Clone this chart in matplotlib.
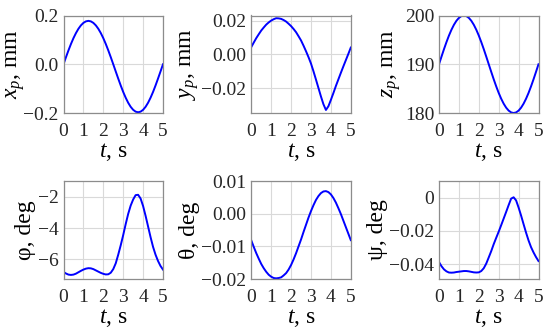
import matplotlib
matplotlib.use("Agg")
import matplotlib.pyplot as plt

plt.rcParams['font.family'] = ['Liberation Serif', 'DejaVu Serif']
plt.rcParams['mathtext.fontset'] = 'custom'
plt.rcParams['mathtext.rm'] = 'Liberation Serif'
plt.rcParams['mathtext.it'] = 'Liberation Serif:italic'

t = [0.0, 0.125, 0.25, 0.375, 0.5, 0.625, 0.75, 0.875, 1.0, 1.125,
     1.25, 1.375, 1.5, 1.625, 1.75, 1.875, 2.0, 2.125, 2.25, 2.375,
     2.5, 2.625, 2.75, 2.875, 3.0, 3.125, 3.25, 3.375, 3.5, 3.625,
     3.75, 3.875, 4.0, 4.125, 4.25, 4.375, 4.5, 4.625, 4.75, 4.875, 5.0]

x_p = [0.0, 0.0291, 0.0570, 0.0832, 0.1070, 0.1278, 0.1455, 0.1595, 0.1697, 0.1759,
       0.1780, 0.1759, 0.1697, 0.1595, 0.1455, 0.1278, 0.1070, 0.0832, 0.0570, 0.0291,
       0.0, -0.0296, -0.0588, -0.0871, -0.1136, -0.1373, -0.1579, -0.1746, -0.1869, -0.1945,
       -0.1970, -0.1945, -0.1869, -0.1746, -0.1579, -0.1373, -0.1136, -0.0871, -0.0588, -0.0296, 0.0]
y_p = [0.0043, 0.0070, 0.0096, 0.0119, 0.0141, 0.0159, 0.0176, 0.0189, 0.0200, 0.0208,
       0.0214, 0.0213, 0.0210, 0.0203, 0.0194, 0.0181, 0.0167, 0.0150, 0.0131, 0.0107,
       0.0082, 0.0051, 0.0018, -0.0017, -0.0055, -0.0101, -0.0150, -0.0200, -0.0250, -0.0296,
       -0.0330, -0.0308, -0.0270, -0.0230, -0.0188, -0.0149, -0.0110, -0.0072, -0.0035, 0.0002, 0.0040]
z_p = [190.0, 191.56, 193.09, 194.54, 195.88, 197.07, 198.09, 198.91, 199.51, 199.88,
       200.0, 199.88, 199.51, 198.91, 198.09, 197.07, 195.88, 194.54, 193.09, 191.56,
       190.0, 188.44, 186.91, 185.46, 184.12, 182.93, 181.91, 181.09, 180.49, 180.12,
       180.0, 180.12, 180.49, 181.09, 181.91, 182.93, 184.12, 185.46, 186.91, 188.44, 190.0]
phi = [-6.80, -6.90, -6.97, -6.99, -6.97, -6.91, -6.82, -6.73, -6.65, -6.59,
       -6.56, -6.57, -6.62, -6.70, -6.78, -6.86, -6.92, -6.96, -6.95, -6.85,
       -6.62, -6.25, -5.70, -5.10, -4.45, -3.75, -3.10, -2.57, -2.18, -1.90,
       -1.88, -2.12, -2.60, -3.22, -3.90, -4.58, -5.20, -5.70, -6.10, -6.42, -6.65]
theta = [-0.0082, -0.0102, -0.0121, -0.0138, -0.0154, -0.0167, -0.0178, -0.0187, -0.0193, -0.0197,
         -0.0198, -0.0197, -0.0195, -0.0189, -0.0182, -0.0171, -0.0157, -0.0140, -0.0121, -0.0100,
         -0.0079, -0.0056, -0.0034, -0.0012, 0.0008, 0.0026, 0.0042, 0.0054, 0.0063, 0.0068,
         0.0069, 0.0066, 0.0059, 0.0048, 0.0034, 0.0017, -0.0001, -0.0021, -0.0041, -0.0061, -0.0081]
psi = [-0.0388, -0.0413, -0.0432, -0.0444, -0.0451, -0.0452, -0.0451, -0.0448, -0.0446, -0.0444,
       -0.0442, -0.0442, -0.0444, -0.0447, -0.0450, -0.0451, -0.0450, -0.0442, -0.0425, -0.0397,
       -0.0360, -0.0322, -0.0280, -0.0242, -0.0205, -0.0166, -0.0126, -0.0086, -0.0045, -0.0006,
       0.0002, -0.0017, -0.0060, -0.0108, -0.0160, -0.0211, -0.0258, -0.0298, -0.0330, -0.0358, -0.0382]

x_ticks = [0, 1, 2, 3, 4, 5]
x_tick_labels = ['0', '1', '2', '3', '4', '5']

series = [x_p, y_p, z_p, phi, theta, psi]
y_labels = [r'$x_p$, mm', r'$y_p$, mm', r'$z_p$, mm', 'φ, deg', 'θ, deg', 'ψ, deg']
y_ticks = [[-0.2, 0.0, 0.2], [-0.02, 0.0, 0.02], [180, 190, 200],
           [-6, -4, -2], [-0.02, -0.01, 0.0, 0.01], [-0.04, -0.02, 0.0]]
y_tick_labels = [['\u22120.2', '0.0', '0.2'], ['\u22120.02', '0.00', '0.02'], ['180', '190', '200'],
                 ['\u22126', '\u22124', '\u22122'], ['\u22120.02', '\u22120.01', '0.00', '0.01'],
                 ['\u22120.04', '\u22120.02', '0']]
y_lims = [(-0.2, 0.2), (-0.0348, 0.023), (180, 200), (-7.25, -1.0), (-0.02, 0.01), (-0.049, 0.010)]

W, H = 550, 332
fig = plt.figure(figsize=(W / 100, H / 100), dpi=100)
lefts = [63.5, 251.3, 439.0]
width = 99.5
rows = [(15.5, 113.0), (181.0, 279.0)]
label_pads = [-2.5, 0.5, 1, 1, 1, 1]

for i in range(6):
    r, c = divmod(i, 3)
    top, bot = rows[r]
    ax = fig.add_axes([lefts[c] / W, 1 - bot / H, width / W, (bot - top) / H])
    ax.plot(t, series[i], color='#0000ff', lw=1.4)
    ax.set_xlim(0, 5)
    ax.set_ylim(*y_lims[i])
    ax.set_xticks(x_ticks)
    ax.set_xticklabels(x_tick_labels)
    ax.set_yticks(y_ticks[i])
    ax.set_yticklabels(y_tick_labels[i])
    ax.grid(True, color='#d9d9d9', lw=0.8)
    ax.set_axisbelow(True)
    for sp in ax.spines.values():
        sp.set_color('#8c8c8c')
        sp.set_linewidth(0.9)
    ax.tick_params(length=0, labelsize=14, colors='#262626')
    ax.tick_params(axis='x', pad=7)
    ax.tick_params(axis='y', pad=3.5)
    ax.set_xlabel(r'$t$, s', fontsize=17, labelpad=1)
    ax.set_ylabel(y_labels[i], fontsize=17, labelpad=label_pads[i])

fig.savefig('out.png', dpi=100)
